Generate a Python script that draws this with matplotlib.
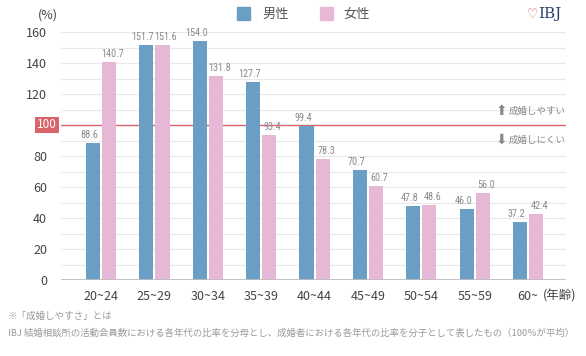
import matplotlib
matplotlib.use("Agg")
import matplotlib.pyplot as plt
from matplotlib import font_manager
import numpy as np

plt.rcParams['font.family'] = ['Noto Sans CJK JP', 'DejaVu Sans']

categories = ["20~24", "25~29", "30~34", "35~39", "40~44", "45~49", "50~54", "55~59", "60~"]
male = [88.6, 151.7, 154.0, 127.7, 99.4, 70.7, 47.8, 46.0, 37.2]
female = [140.7, 151.6, 131.8, 93.4, 78.3, 60.7, 48.6, 56.0, 42.4]
yticks = [0, 20, 40, 60, 80, 100, 120, 140, 160]

BLUE = "#6a9ec4"
PINK = "#e6b8d6"
LBL = "#8a8a8a"

names = {f.name for f in font_manager.fontManager.ttflist}
narrow = 'DejaVu Sans'
for cand in ['Roboto Condensed', 'Liberation Sans Narrow', 'DejaVu Sans Condensed', 'Roboto']:
    if cand in names:
        narrow = cand
        break

fig = plt.figure(figsize=(5.86, 3.56), dpi=100)
ax = fig.add_axes([61/586, (356-280)/356, 505/586, 248/356])

x = np.arange(len(categories))
w = 0.265
off = 0.15
shift = 0.065
ax.bar(x - off, male, width=w, color=BLUE, zorder=3)
ax.bar(x + off, female, width=w, color=PINK, zorder=3)

for xi, m, f in zip(x, male, female):
    ax.text(xi - off - shift, m + 2, f"{m:.1f}", ha='center', va='bottom', fontsize=7.3,
            color=LBL, family=narrow, zorder=4)
    ax.text(xi + off + shift, f + 2, f"{f:.1f}", ha='center', va='bottom', fontsize=7.3,
            color=LBL, family=narrow, zorder=4)

ax.set_xlim(-0.75, 8.71)
ax.set_ylim(0, 160)
ax.set_yticks(yticks)
ax.set_yticklabels(["" if v == 100 else str(v) for v in yticks])
for v in range(10, 161, 10):
    ax.axhline(v, color="#e8e8e8", lw=0.8, zorder=1)
ax.axhline(100, color="#d9646a", lw=1.0, zorder=2)
ax.axhline(0, color="#bdbdbd", lw=2, zorder=5)

ax.set_xticks(x)
ax.set_xticklabels(categories, fontsize=9, color="#444444")
ax.tick_params(axis='y', length=0, labelsize=9, labelcolor="#444444", pad=10)
ax.tick_params(axis='x', length=0, pad=7)
for s in ax.spines.values():
    s.set_visible(False)

# red "100" box label
fig.text(57/586, 1-125/356, "100", ha='right', va='center', fontsize=8.5, color='white',
         bbox=dict(boxstyle='square,pad=0.15', fc='#d9646a', ec='none'))

fig.text(58/586, 1-15/356, "(%)", ha='right', va='center', fontsize=9, color="#444444")
fig.text(543/586, 1-296/356, "(年齢)", ha='left', va='center', fontsize=9, color="#444444")

# Legend
fig.patches.append(plt.Rectangle((237/586, 1-20/356), 13/586, 13/356,
                                 transform=fig.transFigure, color=BLUE))
fig.text(262/586, 1-14/356, "男性", fontsize=9.5, color="#555555", va='center')
fig.patches.append(plt.Rectangle((320/586, 1-20/356), 13/586, 13/356,
                                 transform=fig.transFigure, color=PINK))
fig.text(343/586, 1-14/356, "女性", fontsize=9.5, color="#555555", va='center')

# logo
fig.text(538/586, 1-14/356, "♡", fontsize=9, color="#d05a60", ha='right', va='center',
         family='DejaVu Sans')
fig.text(538/586, 1-14/356, "IBJ", fontsize=11, color="#2d3f6b", ha='left', va='center',
         family='DejaVu Serif')

# annotations
fig.text(566/586, 1-111/356, "成婚しやすい", fontsize=6.8, color="#888888", ha='right',
         va='center')
fig.text(501/586, 1-111/356, "⬆", fontsize=10, color="#888888", ha='center',
         va='center', family='DejaVu Sans')
fig.text(566/586, 1-140/356, "成婚しにくい", fontsize=6.8, color="#888888", ha='right',
         va='center')
fig.text(501/586, 1-140/356, "⬇", fontsize=10, color="#888888", ha='center',
         va='center', family='DejaVu Sans')

# footnotes
fig.text(8/586, 1-316/356, "※「成婚しやすさ」とは", fontsize=6.8, color="#9a9a9a", va='center')
fig.text(8/586, 1-333/356,
         "IBJ 結婚相談所の活動会員数における各年代の比率を分母とし、成婚者における各年代の比率を分子として表したもの（100％が平均）",
         fontsize=6.75, color="#9a9a9a", va='center')

fig.savefig("out.png", dpi=100)
